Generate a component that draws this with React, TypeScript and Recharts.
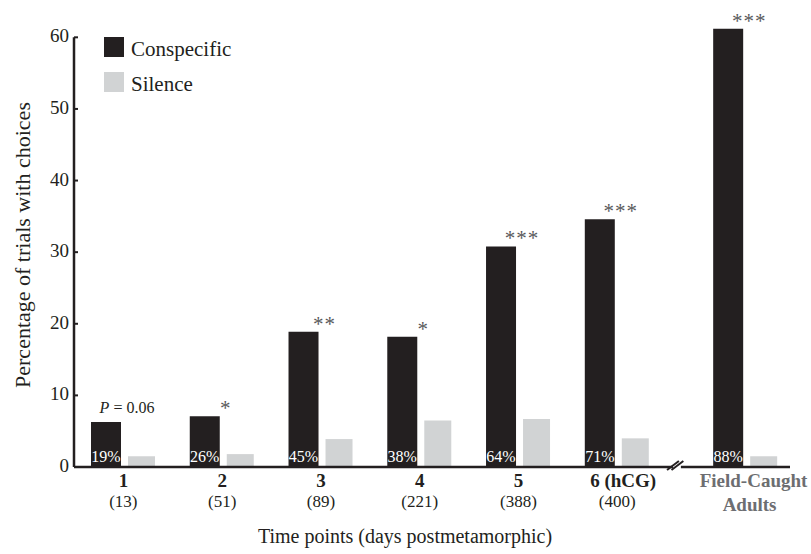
import React from "react";
import { Bar, BarChart, Label, LabelList, Legend, ReferenceLine, XAxis, YAxis } from "recharts";

const timePoints = ["1", "2", "3", "4", "5", "6 (hCG)", "Field-Caught Adults"];
const trialCounts = ["(13)", "(51)", "(89)", "(221)", "(388)", "(400)", ""];
// position on the x axis; the adults sit after the axis break
const xPositions = [1, 2, 3, 4, 5, 6, 7.3];
const conspecific = [6.3, 7.1, 18.9, 18.2, 30.8, 34.6, 61.2];
const silence = [1.5, 1.8, 3.9, 6.5, 6.7, 4.0, 1.5];
const choiceRates = ["19%", "26%", "45%", "38%", "64%", "71%", "88%"];
const significance = ["P = 0.06", "*", "**", "*", "***", "***", "***"];
const yTicks = [0, 10, 20, 30, 40, 50, 60];

const FONT = '"Liberation Serif", "Times New Roman", serif';
const INK = "#231f20";
const GREY_BAR = "#d1d3d4";
const GREY_TEXT = "#6d6e71";
const STAR = "#58595b";

const X_MIN = 0.5;
const X_MAX = 7.75;
const AXIS_BREAK = 6.605;

const data = timePoints.map((name, i) => ({
  name,
  pos: xPositions[i],
  conspecific: conspecific[i],
  silence: silence[i],
  rate: choiceRates[i],
  sig: significance[i],
}));

const XTick = (props: any) => {
  const { x, y, index } = props;
  const label = timePoints[index];
  const count = trialCounts[index];
  if (!count) {
    const [top, bottom] = label.split(" ");
    return (
      <g fontFamily={FONT} fontSize={19} fontWeight="bold" fill={GREY_TEXT}>
        <text x={x + 8} y={y + 20} textAnchor="middle">{top}</text>
        <text x={x + 4} y={y + 44} textAnchor="middle">{bottom}</text>
      </g>
    );
  }
  return (
    <g fontFamily={FONT} fill={INK}>
      <text x={index === 5 ? x + 6 : x} y={y + 20} textAnchor="middle" fontSize={19} fontWeight="bold">{label}</text>
      <text x={x} y={y + 40} textAnchor="middle" fontSize={17}>{count}</text>
    </g>
  );
};

const YTick = (props: any) => {
  const { x, y, payload } = props;
  return (
    <g>
      <line x1={x + 5} x2={x + 9} y1={y} y2={y} stroke={INK} strokeWidth={2} />
      <text x={x} y={y} dy={5} textAnchor="end" fontFamily={FONT} fontSize={19} fill={INK}>
        {payload.value}
      </text>
    </g>
  );
};

const RateLabel = (props: any) => {
  const { x, y, width, height, value } = props;
  return (
    <text x={x + width / 2} y={y + height - 5} textAnchor="middle" fontFamily={FONT} fontSize={16} fill="#fff">
      {value}
    </text>
  );
};

const SigLabel = (props: any) => {
  const { x, y, width, value } = props;
  const cx = x + width + 6;
  if (value.startsWith("P")) {
    return (
      <text x={cx} y={y - 9} textAnchor="middle" fontFamily={FONT} fontSize={16} fill={INK}>
        <tspan fontStyle="italic">P</tspan>
        {value.slice(1)}
      </text>
    );
  }
  return (
    <text x={cx} y={y - 1} textAnchor="middle" fontFamily={FONT} fontSize={21} fill={STAR} letterSpacing={1}>
      {value}
    </text>
  );
};

const LegendBox = (props: any) => (
  <div style={{ fontFamily: FONT }}>
    {(props.payload || []).map((p: any) => (
      <div key={p.value} style={{ display: "flex", alignItems: "center", height: 20, marginBottom: 15 }}>
        <span style={{ display: "inline-block", width: 20, height: 20, background: p.color }} />
        <span style={{ marginLeft: 7, fontSize: 21, color: INK, position: "relative", top: 2 }}>{p.value}</span>
      </div>
    ))}
  </div>
);

const XLabel = () => (
  <text x={405} y={543} textAnchor="middle" fontFamily={FONT} fontSize={20} fill={INK}>
    Time points (days postmetamorphic)
  </text>
);

const YLabel = (props: any) => {
  const { viewBox } = props;
  const cy = viewBox.y + viewBox.height / 2;
  return (
    <text
      x={22}
      y={cy}
      transform={`rotate(-90 22 ${cy})`}
      textAnchor="middle"
      dominantBaseline="central"
      fontFamily={FONT}
      fontSize={22}
      fill={INK}
    >
      Percentage of trials with choices
    </text>
  );
};

const axisLine = { stroke: INK, strokeWidth: 2.5, ifOverflow: "visible" as const };

export default function App() {
  return (
    <div style={{ position: "absolute", left: 0, top: 0, background: "#fff" }}>
      <BarChart
        width={811}
        height={554}
        data={data}
        margin={{ top: 23, right: 21, bottom: 0, left: 24 }}
        barGap={7}
      >
        <XAxis
          dataKey="pos"
          type="number"
          domain={[X_MIN, X_MAX]}
          ticks={xPositions}
          interval={0}
          allowDataOverflow
          axisLine={false}
          tickLine={false}
          tickSize={0}
          tickMargin={0}
          height={87}
          tick={XTick}
        >
          <Label content={XLabel} />
        </XAxis>
        <YAxis
          domain={[0, 62]}
          ticks={yTicks}
          allowDataOverflow
          width={50}
          axisLine={false}
          tickLine={false}
          tickSize={0}
          tickMargin={5}
          tick={YTick}
        >
          <Label content={YLabel} />
        </YAxis>
        <Legend
          layout="vertical"
          align="center"
          verticalAlign="middle"
          content={LegendBox}
          wrapperStyle={{ left: 104, top: 37, width: "auto" }}
        />
        <Bar dataKey="conspecific" name="Conspecific" fill={INK} barSize={30} isAnimationActive={false}>
          <LabelList dataKey="rate" content={RateLabel} />
          <LabelList dataKey="sig" content={SigLabel} />
        </Bar>
        <Bar dataKey="silence" name="Silence" fill={GREY_BAR} barSize={27} isAnimationActive={false} />
        <ReferenceLine segment={[{ x: X_MIN, y: 0 }, { x: X_MIN, y: 60 }]} {...axisLine} />
        <ReferenceLine segment={[{ x: X_MIN, y: 0 }, { x: AXIS_BREAK - 0.04, y: 0 }]} {...axisLine} />
        <ReferenceLine segment={[{ x: AXIS_BREAK + 0.04, y: 0 }, { x: X_MAX, y: 0 }]} {...axisLine} />
        <ReferenceLine
          segment={[{ x: AXIS_BREAK - 0.1, y: -0.42 }, { x: AXIS_BREAK + 0.02, y: 0.84 }]}
          {...axisLine}
          strokeWidth={2}
        />
        <ReferenceLine
          segment={[{ x: AXIS_BREAK - 0.055, y: -0.42 }, { x: AXIS_BREAK + 0.065, y: 0.84 }]}
          {...axisLine}
          strokeWidth={2}
        />
      </BarChart>
    </div>
  );
}
